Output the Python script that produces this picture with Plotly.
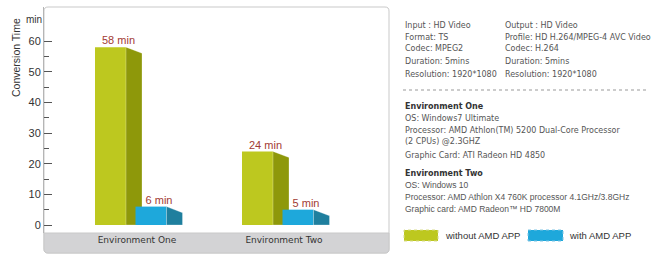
import plotly.graph_objects as go

# ---------------- data ----------------
categories = ["Environment One", "Environment Two"]
series_names = ["without AMD APP", "with AMD APP"]
without_app = [58, 24]
with_app = [6, 5]
y_ticks = [0, 10, 20, 30, 40, 50, 60]
y_minor = [5, 15, 25, 35, 45, 55]

spec_input = ["Input : HD Video", "Format: TS", "Codec: MPEG2", "Duration: 5mins", "Resolution: 1920*1080"]
spec_output = ["Output : HD Video", "Profile: HD H.264/MPEG-4 AVC Video", "Codec: H.264", "Duration: 5mins", "Resolution: 1920*1080"]
env_one = ["Environment One", "OS: Windows7 Ultimate", "Processor: AMD Athlon(TM) 5200 Dual-Core Processor",
           "(2 CPUs) @2.3GHZ", "Graphic Card: ATI Radeon HD 4850"]
env_two = ["Environment Two", "OS: Windows 10", "Processor: AMD Athlon X4 760K processor 4.1GHz/3.8GHz",
           "Graphic card: AMD Radeon™ HD 7800M"]

# ---------------- layout geometry ----------------
W, H = 660, 272
L, R, T, B = 44, 389, 7, 233          # plot area in pixels
PW, PH = R - L, B - T

def px(x):
    return (x - L) / PW

def py(y):
    return (B - y) / PH

def rounded_path(x0, y0, x1, y1, r_top, r_bot):
    """SVG path in paper coords for a pixel box (y down) with rounded corners."""
    def P(x, y):
        return f"{px(x):.5f},{py(y):.5f}"
    d = f"M {P(x0, y0 + r_top)} Q {P(x0, y0)} {P(x0 + r_top, y0)} "
    d += f"L {P(x1 - r_top, y0)} Q {P(x1, y0)} {P(x1, y0 + r_top)} "
    d += f"L {P(x1, y1 - r_bot)} Q {P(x1, y1)} {P(x1 - r_bot, y1)} "
    d += f"L {P(x0 + r_bot, y1)} Q {P(x0, y1)} {P(x0, y1 - r_bot)} Z"
    return d

GREEN, GREEN_SIDE = "#bdc81f", "#8e980a"
BLUE, BLUE_SIDE = "#1ea8db", "#1f7f9e"
LABEL_RED = "#a23b33"

UNIT = 147.0                      # px per category
FW = 31 / UNIT                    # front width
DEPTH = 16 / UNIT                 # side depth
DROP = 2.0                        # side slant (value units)
offsets = [-26.5 / UNIT, 14 / UNIT]

fig = go.Figure()

series = [(without_app, GREEN, GREEN_SIDE), (with_app, BLUE, BLUE_SIDE)]
for ci in range(len(categories)):
    for si, (vals, cf, cs) in enumerate(series):
        v = vals[ci]
        xc = ci + offsets[si]
        x0, x1 = xc - FW / 2, xc + FW / 2
        # front face
        fig.add_trace(go.Scatter(x=[x0, x1, x1, x0, x0], y=[0, 0, v, v, 0], fill="toself",
                                 fillcolor=cf, line=dict(width=0, color=cf), mode="lines",
                                 hoverinfo="skip", showlegend=False))
        # side face
        fig.add_trace(go.Scatter(x=[x1, x1 + DEPTH, x1 + DEPTH, x1, x1],
                                 y=[0, 0, v - DROP, v, 0], fill="toself",
                                 fillcolor=cs, line=dict(width=0.8, color="rgba(255,255,255,0.35)"),
                                 mode="lines", hoverinfo="skip", showlegend=False))
        # value label
        fig.add_trace(go.Scatter(x=[xc + DEPTH / 2], y=[v], mode="text", text=[f"{v} min"],
                                 textposition="top center",
                                 textfont=dict(family="Liberation Sans, Arial", size=11, color=LABEL_RED),
                                 hoverinfo="skip", showlegend=False))

shapes = []
# frame
shapes.append(dict(type="path", xref="paper", yref="paper", path=rounded_path(L, T, R, 253, 4, 4),
                   line=dict(color="#c9c9c9", width=1), fillcolor="white", layer="below"))
# gray category band
shapes.append(dict(type="path", xref="paper", yref="paper", path=rounded_path(L, B, R, 253, 0.01, 4),
                   line=dict(color="#c9c9c9", width=1), fillcolor="#d3d3d5", layer="below"))
# dotted separator
shapes.append(dict(type="line", xref="paper", yref="paper", x0=px(403), x1=px(647), y0=py(90), y1=py(90),
                   line=dict(color="#999999", width=1, dash="dot")))
# legend boxes
shapes.append(dict(type="rect", xref="paper", yref="paper", x0=px(404), x1=px(438), y0=py(241), y1=py(230),
                   line=dict(color="#d8dc8c", width=1, dash="dot"), fillcolor=GREEN))
shapes.append(dict(type="rect", xref="paper", yref="paper", x0=px(528), x1=px(563), y0=py(241), y1=py(230),
                   line=dict(color="#7cc4e4", width=1, dash="dot"), fillcolor=BLUE))

ann = []
def text(x, y, s, size=8, color="#555555", family="DejaVu Sans, Verdana", bold=False, anchor="left", angle=0):
    ann.append(dict(x=px(x), y=py(y), xref="paper", yref="paper", text=f"<b>{s}</b>" if bold else s,
                    showarrow=False, xanchor=anchor, yanchor="middle", textangle=angle,
                    font=dict(family=family, size=size, color=color)))

# axis titles
text(16, 58, "Conversion Time", size=10.5, color="#333333", family="Liberation Sans, Arial", anchor="center", angle=-90)
text(34, 20, "min", size=10, color="#333333", family="Liberation Sans, Arial", anchor="center")

# specs panel
rows = [25, 37, 49, 61, 74]
for yy, s in zip(rows, spec_input):
    text(403, yy, s)
for yy, s in zip(rows, spec_output):
    text(503, yy, s)
for i, (yy, s) in enumerate(zip([106, 118, 130, 142, 155], env_one)):
    text(403, yy, s, bold=(i == 0), color="#333333" if i == 0 else "#555555")
for i, (yy, s) in enumerate(zip([173, 185, 197, 209], env_two)):
    if i == 0:
        text(403, yy, s, bold=True, color="#333333")
    else:
        text(403, yy, s, size=8.5, family="Liberation Sans, Arial")

# legend texts
text(443, 236, series_names[0], size=9.5, color="#333333", family="Liberation Sans, Arial")
text(567, 236, series_names[1], size=9.5, color="#333333", family="Liberation Sans, Arial")

fig.update_layout(
    width=W, height=H, margin=dict(l=L, r=W - R, t=T, b=H - B),
    paper_bgcolor="white", plot_bgcolor="rgba(0,0,0,0)",
    shapes=shapes, annotations=ann,
    xaxis=dict(range=[-(137 - L) / UNIT, (R - 137) / UNIT], tickvals=list(range(len(categories))),
               ticktext=categories, showgrid=False, zeroline=False, showline=False, ticks="",
               tickfont=dict(family="DejaVu Sans, Verdana", size=9, color="#333333"), fixedrange=True),
    yaxis=dict(range=[-(B - 225) / 3.0667, (225 - T) / 3.0667], tickvals=y_ticks, ticks="inside",
               ticklen=8, tickcolor="#555555", tickwidth=1, showgrid=False, zeroline=False,
               showline=True, linecolor="#b5b5b5",
               minor=dict(tickvals=y_minor, ticks="inside", ticklen=5, tickcolor="#555555"),
               tickfont=dict(family="Liberation Sans, Arial", size=11, color="#333333")),
    showlegend=False,
)

fig.write_html("out.html")
